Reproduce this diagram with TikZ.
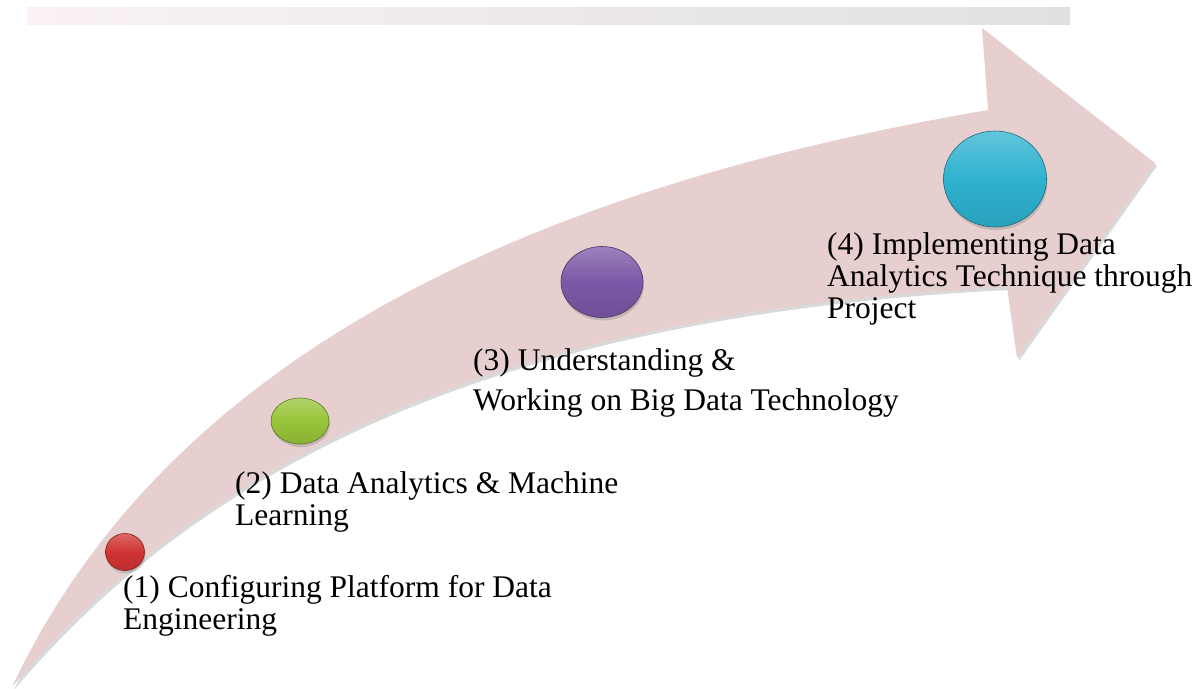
\documentclass[tikz,border=0pt]{standalone}
\usepackage{fontspec}
\setmainfont{Liberation Serif}
\usetikzlibrary{shapes.geometric}
\usetikzlibrary{shadows}
\definecolor{arrowpink}{RGB}{231,207,207}
\definecolor{ballred}{RGB}{208,52,52}
\definecolor{ballgreen}{RGB}{152,196,58}
\definecolor{ballpurple}{RGB}{124,88,166}
\definecolor{ballcyan}{RGB}{46,178,208}
\definecolor{stripleft}{RGB}{250,242,242}
\definecolor{stripright}{RGB}{224,224,226}
\tikzset{
	ball/.style={ellipse, inner sep=0pt, draw=#1!60!black, line width=0.6pt,
		top color=#1!75!white, bottom color=#1!90!black, middle color=#1,
		drop shadow={opacity=0.35, shadow xshift=1pt, shadow yshift=-3pt}},
	steplabel/.style={anchor=base west, align=left, inner sep=0pt,
		font=\fontsize{31.5}{32}\selectfont}
}

\begin{document}
\begin{tikzpicture}[x=1pt,y=-1pt]
	\useasboundingbox (0,0) rectangle (1201,688);
	%% faded strip at the top
	\shade[left color=stripleft, right color=stripright] (27,7) rectangle (1070,24);
	%% curved arrow, with its shadow
	\fill[gray, opacity=0.3, shift={(2,3)}] (12,687) .. controls (180,330) and (580,180) .. (988,110) -- (982,28) -- (1155,163) -- (1017,358) -- (1007,287) .. controls (540,310) and (220,440) .. (12,687) -- cycle;
	\fill[arrowpink] (12,687) .. controls (180,330) and (580,180) .. (988,110) -- (982,28) -- (1155,163) -- (1017,358) -- (1007,287) .. controls (540,310) and (220,440) .. (12,687) -- cycle;
	%% the four steps
	\node[ball=ballred, minimum width=39pt, minimum height=37pt] (b1) at (125,552) {};
	\node[ball=ballgreen, minimum width=58pt, minimum height=46pt] (b2) at (300,421) {};
	\node[ball=ballpurple, minimum width=82pt, minimum height=71pt] (b3) at (602,282) {};
	\node[ball=ballcyan, minimum width=103pt, minimum height=96pt] (b4) at (995,179) {};
	%% labels (placed by the baseline of their last line)
	\node[steplabel] (t1) at (123,629) {(1) Configuring Platform for Data\\Engineering};
	\node[steplabel] (t2) at (235,525) {(2) Data Analytics \& Machine\\Learning};
	\node[steplabel] (t3) at (473,410) {(3) Understanding \&\\[8pt]Working on Big Data Technology};
	\node[steplabel] (t4) at (827,318) {(4) Implementing Data\\Analytics Technique through\\Project};
\end{tikzpicture}
\end{document}
